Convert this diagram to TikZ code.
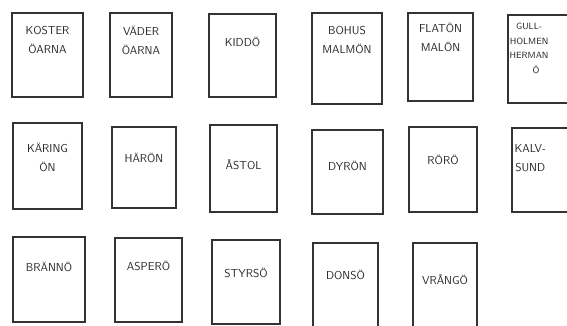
\documentclass[tikz,border=0pt]{standalone}
\usetikzlibrary{positioning}

\tikzset{
  islandbox/.style={draw=black!80,line width=1.2pt,inner sep=0pt},
  islandname/.style={font=\sffamily\fontsize{11.5}{19}\selectfont,
    text=black!85,align=center,inner sep=0pt},
}

\begin{document}
\begin{tikzpicture}[x=1pt,y=-1pt]
\useasboundingbox (0,0) rectangle (567,325);
\clip (0,0) rectangle (567,325);

% First row of islands.
\node[islandbox,minimum width=71,minimum height=84] (koster) at (47.5,55) {};
\node[islandbox,minimum width=62,minimum height=84] (vader) at (141,55) {};
\node[islandbox,minimum width=67,minimum height=83] (kiddo) at (242.5,55.5) {};
\node[islandbox,minimum width=70,minimum height=91] (bohus) at (347,58.5) {};
\node[islandbox,minimum width=65,minimum height=88] (flaton) at (440.5,57) {};
\node[islandbox,minimum width=68,minimum height=88] (gull) at (542,59) {};

\node[islandname,anchor=north] (kosterName) at ([yshift=-14]koster.north) {KOSTER\\ÖARNA};
\node[islandname,anchor=north] (vaderName) at ([yshift=-14]vader.north) {VÄDER\\ÖARNA};
\node[islandname,anchor=north] (kiddoName) at ([yshift=-24]kiddo.north) {KIDDÖ};
\node[islandname,anchor=north] (bohusName) at ([yshift=-14]bohus.north) {BOHUS\\MALMÖN};
\node[islandname,anchor=north] (flatonName) at ([yshift=-11]flaton.north) {FLATÖN\\MALÖN};
\node[islandname,anchor=north west,font=\sffamily\fontsize{9}{14.5}\selectfont]
  (gullName) at ([xshift=2,yshift=-9]gull.north west) {GULL-\\HOLMEN\\HERMAN\\\hspace*{14pt}Ö};

% Second row of islands.
\node[islandbox,minimum width=69,minimum height=86] (karing) at (47.5,166) {};
\node[islandbox,minimum width=64,minimum height=81] (haron) at (144,167.5) {};
\node[islandbox,minimum width=67,minimum height=87] (astol) at (243.5,168.5) {};
\node[islandbox,minimum width=71,minimum height=84] (dyron) at (347.5,172) {};
\node[islandbox,minimum width=68,minimum height=85] (roro) at (443,169.5) {};
\node[islandbox,minimum width=66,minimum height=84] (kalv) at (545,170) {};

\node[islandname,anchor=north] (karingName) at ([yshift=-21]karing.north) {KÄRING\\ÖN};
\node[islandname,anchor=north] (haronName) at ([yshift=-27]haron.north) {HÄRÖN};
\node[islandname,anchor=north] (astolName) at ([yshift=-35]astol.north) {ÅSTOL};
\node[islandname,anchor=north] (dyronName) at ([yshift=-32]dyron.north) {DYRÖN};
\node[islandname,anchor=north] (roroName) at ([yshift=-29]roro.north) {RÖRÖ};
\node[islandname,anchor=north west] (kalvName) at ([xshift=3,yshift=-17]kalv.north west) {KALV-\\SUND};

% Third row of islands.
\node[islandbox,minimum width=72,minimum height=85] (branno) at (49,279.5) {};
\node[islandbox,minimum width=67,minimum height=84] (aspero) at (148.5,280) {};
\node[islandbox,minimum width=68,minimum height=84] (styrso) at (246,282) {};
\node[islandbox,minimum width=65,minimum height=87] (donso) at (345.5,286.5) {};
\node[islandbox,minimum width=64,minimum height=87] (vrango) at (445,286.5) {};

\node[islandname,anchor=north] (brannoName) at ([yshift=-26]branno.north) {BRÄNNÖ};
\node[islandname,anchor=north] (asperoName) at ([yshift=-24]aspero.north) {ASPERÖ};
\node[islandname,anchor=north] (styrsoName) at ([yshift=-29]styrso.north) {STYRSÖ};
\node[islandname,anchor=north] (donsoName) at ([yshift=-28]donso.north) {DONSÖ};
\node[islandname,anchor=north] (vrangoName) at ([yshift=-32]vrango.north) {VRÅNGÖ};

\end{tikzpicture}
\end{document}
